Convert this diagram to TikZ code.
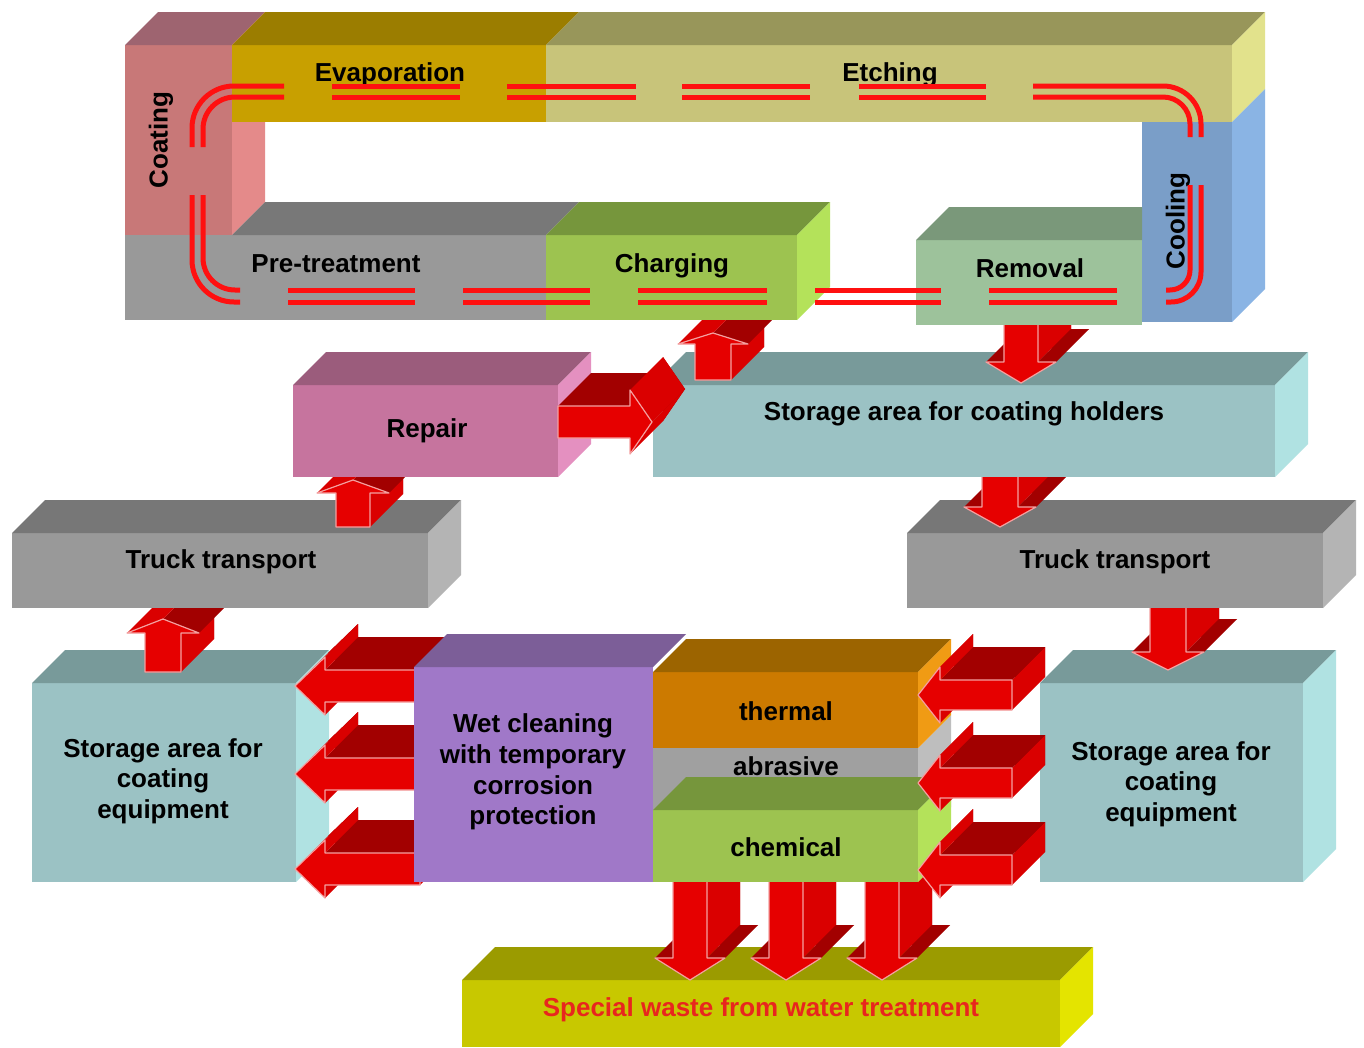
\documentclass[tikz,border=0pt]{standalone}
\usepackage{fontspec}
\setmainfont{Liberation Sans}
\usetikzlibrary{calc}
\definecolor{coatF}{HTML}{C87878}\definecolor{coatT}{HTML}{9E6470}\definecolor{coatR}{HTML}{E48A8A}
\definecolor{evapF}{HTML}{C8A000}\definecolor{evapT}{HTML}{9B7D00}
\definecolor{etchF}{HTML}{C8C47A}\definecolor{etchT}{HTML}{98965A}\definecolor{etchR}{HTML}{E2E28C}
\definecolor{coolF}{HTML}{7A9EC8}\definecolor{coolR}{HTML}{8AB4E4}
\definecolor{preF}{HTML}{999999}\definecolor{preT}{HTML}{787878}
\definecolor{chgF}{HTML}{9DC350}\definecolor{chgT}{HTML}{76963C}\definecolor{chgR}{HTML}{B4E25A}
\definecolor{remF}{HTML}{9DC29B}\definecolor{remT}{HTML}{7A987A}
\definecolor{repF}{HTML}{C6749E}\definecolor{repT}{HTML}{9B5C7C}\definecolor{repR}{HTML}{E490C0}
\definecolor{stoF}{HTML}{9BC2C4}\definecolor{stoT}{HTML}{789A9A}\definecolor{stoR}{HTML}{B0E2E2}
\definecolor{trkF}{HTML}{999999}\definecolor{trkT}{HTML}{777777}\definecolor{trkR}{HTML}{B4B4B4}
\definecolor{wetF}{HTML}{A078C8}\definecolor{wetT}{HTML}{7C5E98}
\definecolor{thF}{HTML}{CC7A00}\definecolor{thT}{HTML}{9C6400}\definecolor{thR}{HTML}{F09B14}
\definecolor{abF}{HTML}{A0A0A0}\definecolor{abR}{HTML}{BEBEBE}
\definecolor{wsF}{HTML}{C8C800}\definecolor{wsT}{HTML}{9B9B00}\definecolor{wsR}{HTML}{E4E400}
\definecolor{arrF}{HTML}{E60000}\definecolor{arrD}{HTML}{A20000}\definecolor{arrL}{HTML}{DA0000}
\definecolor{arrE}{HTML}{F4A0A0}\definecolor{loopred}{HTML}{FF1010}\definecolor{wastetext}{HTML}{E8261E}

\newcommand\ExD{33}
\newcommand\EyD{-33}
% front face of a 3D box as a named node
\newcommand\mkbox[6]{\node[box,fill=#6,minimum width={(#4-#2)*1pt},minimum height={(#5-#3)*1pt}] (#1) at (#2,#3) {};}
\newcommand\topf[2]{\fill[#2] (#1.north west) -- ++(\ExD,\EyD) -- ([shift={(\ExD,\EyD)}]#1.north east) -- (#1.north east) -- cycle;}
\newcommand\rightf[2]{\fill[#2] (#1.north east) -- ++(\ExD,\EyD) -- ([shift={(\ExD,\EyD)}]#1.south east) -- (#1.south east) -- cycle;}
% 3D block arrows: up {cx}{tip}{base}{w}{hw}{hl}
\newcommand\ArrUp[6]{%
\fill[arrdark] ({#1+\ExD},{#2+\EyD}) -- ({#1+#5+\ExD},{#2+#6+\EyD}) -- ({#1+#4+\ExD},{#2+#6+\EyD}) -- ({#1+#4+\ExD},{#3+\EyD}) -- ({#1-#4+\ExD},{#3+\EyD}) -- ({#1-#4+\ExD},{#2+#6+\EyD}) -- ({#1-#5+\ExD},{#2+#6+\EyD}) -- cycle;
\fill[arrside] ({#1+#4},{#2+#6}) -- ({#1+#4},{#3}) -- ({#1+#4+\ExD},{#3+\EyD}) -- ({#1+#4+\ExD},{#2+#6+\EyD}) -- cycle;
\fill[arrdark] ({#1},{#2}) -- ({#1+#5},{#2+#6}) -- ({#1+#5+\ExD},{#2+#6+\EyD}) -- ({#1+\ExD},{#2+\EyD}) -- cycle;
\fill[arrside] ({#1-#5},{#2+#6}) -- ({#1},{#2}) -- ({#1+\ExD},{#2+\EyD}) -- ({#1-#5+\ExD},{#2+#6+\EyD}) -- cycle;
\filldraw[arrfront] ({#1},{#2}) -- ({#1+#5},{#2+#6}) -- ({#1+#4},{#2+#6}) -- ({#1+#4},{#3}) -- ({#1-#4},{#3}) -- ({#1-#4},{#2+#6}) -- ({#1-#5},{#2+#6}) -- cycle;}
% down {cx}{tip}{top}{w}{hw}{hl}
\newcommand\ArrDown[6]{%
\fill[arrdark] ({#1+\ExD},{#2+\EyD}) -- ({#1+#5+\ExD},{#2-#6+\EyD}) -- ({#1+#4+\ExD},{#2-#6+\EyD}) -- ({#1+#4+\ExD},{#3+\EyD}) -- ({#1-#4+\ExD},{#3+\EyD}) -- ({#1-#4+\ExD},{#2-#6+\EyD}) -- ({#1-#5+\ExD},{#2-#6+\EyD}) -- cycle;
\fill[arrdark] ({#1-#5},{#2-#6}) -- ({#1-#4},{#2-#6}) -- ({#1-#4+\ExD},{#2-#6+\EyD}) -- ({#1-#5+\ExD},{#2-#6+\EyD}) -- cycle;
\fill[arrdark] ({#1+#4},{#3}) -- ({#1-#4},{#3}) -- ({#1-#4+\ExD},{#3+\EyD}) -- ({#1+#4+\ExD},{#3+\EyD}) -- cycle;
\fill[arrside] ({#1+#4},{#2-#6}) -- ({#1+#4},{#3}) -- ({#1+#4+\ExD},{#3+\EyD}) -- ({#1+#4+\ExD},{#2-#6+\EyD}) -- cycle;
\fill[arrdark] ({#1+#5},{#2-#6}) -- ({#1+#4},{#2-#6}) -- ({#1+#4+\ExD},{#2-#6+\EyD}) -- ({#1+#5+\ExD},{#2-#6+\EyD}) -- cycle;
\filldraw[arrfront] ({#1},{#2}) -- ({#1+#5},{#2-#6}) -- ({#1+#4},{#2-#6}) -- ({#1+#4},{#3}) -- ({#1-#4},{#3}) -- ({#1-#4},{#2-#6}) -- ({#1-#5},{#2-#6}) -- cycle;}
% left {tipx}{cy}{endx}{w}{hw}{hl}
\newcommand\ArrLeft[6]{%
\fill[arrdark] ({#1+\ExD},{#2+\EyD}) -- ({#1+#6+\ExD},{#2-#5+\EyD}) -- ({#1+#6+\ExD},{#2-#4+\EyD}) -- ({#3+\ExD},{#2-#4+\EyD}) -- ({#3+\ExD},{#2+#4+\EyD}) -- ({#1+#6+\ExD},{#2+#4+\EyD}) -- ({#1+#6+\ExD},{#2+#5+\EyD}) -- cycle;
\fill[arrside] ({#1+#6},{#2+#4}) -- ({#1+#6},{#2+#5}) -- ({#1+#6+\ExD},{#2+#5+\EyD}) -- ({#1+#6+\ExD},{#2+#4+\EyD}) -- cycle;
\fill[arrside] ({#3},{#2-#4}) -- ({#3},{#2+#4}) -- ({#3+\ExD},{#2+#4+\EyD}) -- ({#3+\ExD},{#2-#4+\EyD}) -- cycle;
\fill[arrdark] ({#1+#6},{#2-#4}) -- ({#3},{#2-#4}) -- ({#3+\ExD},{#2-#4+\EyD}) -- ({#1+#6+\ExD},{#2-#4+\EyD}) -- cycle;
\fill[arrside] ({#1+#6},{#2-#5}) -- ({#1+#6},{#2-#4}) -- ({#1+#6+\ExD},{#2-#4+\EyD}) -- ({#1+#6+\ExD},{#2-#5+\EyD}) -- cycle;
\fill[arrside] ({#1},{#2}) -- ({#1+#6},{#2-#5}) -- ({#1+#6+\ExD},{#2-#5+\EyD}) -- ({#1+\ExD},{#2+\EyD}) -- cycle;
\filldraw[arrfront] ({#1},{#2}) -- ({#1+#6},{#2-#5}) -- ({#1+#6},{#2-#4}) -- ({#3},{#2-#4}) -- ({#3},{#2+#4}) -- ({#1+#6},{#2+#4}) -- ({#1+#6},{#2+#5}) -- cycle;}
% right {tipx}{cy}{startx}{w}{hw}{hl}
\newcommand\ArrRight[6]{%
\fill[arrdark] ({#1+\ExD},{#2+\EyD}) -- ({#1-#6+\ExD},{#2-#5+\EyD}) -- ({#1-#6+\ExD},{#2-#4+\EyD}) -- ({#3+\ExD},{#2-#4+\EyD}) -- ({#3+\ExD},{#2+#4+\EyD}) -- ({#1-#6+\ExD},{#2+#4+\EyD}) -- ({#1-#6+\ExD},{#2+#5+\EyD}) -- cycle;
\fill[arrdark] ({#1-#6},{#2-#4}) -- ({#3},{#2-#4}) -- ({#3+\ExD},{#2-#4+\EyD}) -- ({#1-#6+\ExD},{#2-#4+\EyD}) -- cycle;
\fill[arrside] ({#1-#6},{#2+#5}) -- ({#1},{#2}) -- ({#1+\ExD},{#2+\EyD}) -- ({#1-#6+\ExD},{#2+#5+\EyD}) -- cycle;
\fill[arrside] ({#1},{#2}) -- ({#1-#6},{#2-#5}) -- ({#1-#6+\ExD},{#2-#5+\EyD}) -- ({#1+\ExD},{#2+\EyD}) -- cycle;
\filldraw[arrfront] ({#1},{#2}) -- ({#1-#6},{#2-#5}) -- ({#1-#6},{#2-#4}) -- ({#3},{#2-#4}) -- ({#3},{#2+#4}) -- ({#1-#6},{#2+#4}) -- ({#1-#6},{#2+#5}) -- cycle;}

\begin{document}
\begin{tikzpicture}[x=1pt,y=-1pt,
  box/.style={inner sep=0pt,outer sep=0pt,anchor=north west,draw=none},
  lbl/.style={font=\bfseries\fontsize{26}{30.7}\selectfont,inner sep=0pt,align=center,text=black},
  arrfront/.style={fill=arrF,draw=arrE,line width=1.2pt,line join=round},
  arrdark/.style={fill=arrD},
  arrside/.style={fill=arrL},
  loopline/.style={draw=loopred,line width=5pt}]
\useasboundingbox (0,0) rectangle (1364,1047);
\fill[white] (0,0) rectangle (1364,1047);

% ---- lower-left storage, arrow up, truck
\mkbox{stoL}{32}{683}{296}{882}{stoF}\topf{stoL}{stoT}\rightf{stoL}{stoR}
\ArrUp{163}{619}{672}{18}{36}{14}
\mkbox{trkL}{12}{533}{428}{608}{trkF}\topf{trkL}{trkT}\rightf{trkL}{trkR}
% ---- lower-right storage, arrow down, truck
\mkbox{stoR}{1040}{683}{1303}{882}{stoF}\topf{stoR}{stoT}\rightf{stoR}{stoR}
\ArrDown{1168}{670}{600}{18}{36}{18}
\mkbox{trkR}{907}{533}{1323}{608}{trkF}\topf{trkR}{trkT}\rightf{trkR}{trkR}
\ArrUp{353}{480}{527}{17}{36}{13}
\ArrDown{1000}{527}{470}{18}{36}{20}
% ---- middle row
\mkbox{repair}{293}{385}{558}{477}{repF}\topf{repair}{repT}\rightf{repair}{repR}
\mkbox{hold}{653}{385}{1275}{477}{stoF}\topf{hold}{stoT}\rightf{hold}{stoR}
\ArrUp{713}{333}{380}{18}{35}{11}
\ArrDown{1021}{383}{315}{17}{35}{21}
\ArrRight{652}{422}{558}{16}{32}{22}
% ---- top loop
\mkbox{coat}{125}{45}{232}{235}{coatF}
\fill[coatT] (coat.north west) -- ++(\ExD,\EyD) -- (265,12) -- (232,45) -- cycle;
\rightf{coat}{coatR}
\mkbox{evap}{232}{45}{546}{122}{evapF}\topf{evap}{evapT}
\mkbox{etch}{546}{45}{1232}{122}{etchF}\topf{etch}{etchT}\rightf{etch}{etchR}
\mkbox{cool}{1142}{122}{1232}{322}{coolF}\rightf{cool}{coolR}
\mkbox{pre}{125}{235}{546}{320}{preF}
\fill[preT] (232,235) -- (265,202) -- (579,202) -- (pre.north east) -- cycle;
\mkbox{chg}{546}{235}{797}{320}{chgF}\topf{chg}{chgT}\rightf{chg}{chgR}
\mkbox{rem}{916}{240}{1142}{325}{remF}
\fill[remT] (rem.north west) -- ++(\ExD,\EyD) -- (1142,207) -- (rem.north east) -- cycle;
% labels of the loop
\node[lbl,rotate=90] (tCoat) at (161,140) {Coating};
\node[lbl,anchor=base] (tEvap) at (390,81) {Evaporation};
\node[lbl,anchor=base] (tEtch) at (890,81) {Etching};
\node[lbl,rotate=90] (tCool) at (1178,221) {Cooling};
\node[lbl,anchor=base] (tPre) at (336,272) {Pre-treatment};
\node[lbl,anchor=base] (tChg) at (672,272) {Charging};
\node[lbl,anchor=base] (tRem) at (1030,277) {Removal};
% double red loop line
\draw[loopline,rounded corners=42] (240,302) -- (192,302) -- (192,195);
\draw[loopline,rounded corners=32] (240,290) -- (203,290) -- (203,195);
\draw[loopline,rounded corners=42] (192,147) -- (192,86) -- (284,86);
\draw[loopline,rounded corners=32] (203,147) -- (203,97) -- (284,97);
\foreach \a/\b in {332/460,507/636,682/810,859/986}{
  \draw[loopline] (\a,86) -- (\b,86);
  \draw[loopline] (\a,97) -- (\b,97);}
\draw[loopline,rounded corners=38] (1033,86) -- (1201,86) -- (1201,137);
\draw[loopline,rounded corners=27] (1033,97) -- (1190,97) -- (1190,137);
\draw[loopline,rounded corners=30] (1201,185) -- (1201,302) -- (1166,302);
\draw[loopline,rounded corners=20] (1190,185) -- (1190,290) -- (1166,290);
\foreach \a/\b in {288/415,463/590,638/767,815/941,989/1117}{
  \draw[loopline] (\a,290) -- (\b,290);
  \draw[loopline] (\a,302) -- (\b,302);}
% middle labels
\node[lbl,anchor=base] (tRep) at (427,437) {Repair};
\node[lbl,anchor=base] (tHold) at (964,420) {Storage area for coating holders};
\node[lbl,anchor=base] (tTrkL) at (221,568) {Truck transport};
\node[lbl,anchor=base] (tTrkR) at (1115,568) {Truck transport};
\node[lbl] (tStoL) at (163,781) {Storage area for\\coating\\equipment};
\node[lbl] (tStoR) at (1171,784) {Storage area for\\coating\\equipment};
% ---- bottom
\ArrLeft{295}{686}{420}{16}{29}{30}
\ArrLeft{295}{774}{420}{16}{29}{30}
\ArrLeft{295}{869}{420}{16}{29}{30}
\mkbox{wet}{414}{667}{653}{882}{wetF}
\fill[wetT] (wet.north west) -- ++(\ExD,\EyD) -- (686,634) -- (wet.north east) -- cycle;
\node[lbl] (tWet) at (533,772) {Wet cleaning\\with temporary\\corrosion\\protection};
\mkbox{waste}{462}{980}{1060}{1047}{wsF}\topf{waste}{wsT}
\fill[wsR] (waste.north east) -- ++(\ExD,\EyD) -- (1093,1014) -- (waste.south east) -- cycle;
\node[lbl,anchor=base,text=wastetext] (tWaste) at (761,1016) {Special waste from water treatment};
\ArrDown{690}{980}{880}{17}{35}{22}
\ArrDown{786}{980}{880}{17}{35}{22}
\ArrDown{882}{980}{880}{17}{35}{22}
\mkbox{abr}{653}{748}{918}{840}{abF}
\fill[abR] (abr.north east) -- ++(\ExD,\EyD) -- (951,807) -- (abr.south east) -- cycle;
\mkbox{therm}{653}{672}{918}{748}{thF}\topf{therm}{thT}\rightf{therm}{thR}
\mkbox{chem}{653}{810}{918}{882}{chgF}\topf{chem}{chgT}\rightf{chem}{chgR}
\node[lbl,anchor=base] (tTherm) at (786,720) {thermal};
\node[lbl,anchor=base] (tAbr) at (786,775) {abrasive};
\node[lbl,anchor=base] (tChem) at (786,856) {chemical};
\ArrLeft{918}{695}{1012}{15}{28}{22}
\ArrLeft{918}{783}{1012}{15}{28}{22}
\ArrLeft{918}{870}{1012}{15}{28}{22}
\end{tikzpicture}
\end{document}
